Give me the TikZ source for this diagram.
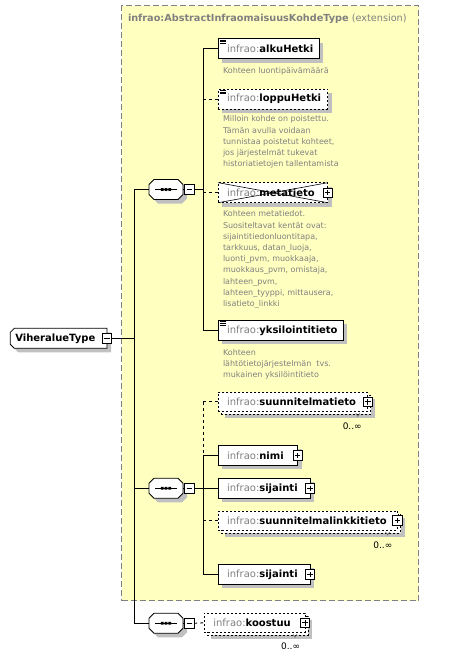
\documentclass[tikz,border=0pt]{standalone}
\usepackage{fontspec}
\setmainfont{DejaVu Sans}
\usetikzlibrary{shadows}
\definecolor{tgray}{HTML}{808080}
\definecolor{ylw}{HTML}{FFFFC0}
\definecolor{shd}{HTML}{C0C0C0}
\newcommand\compobox[3]{%
  \node[comp] (#1) at (#2,#3) {};
  \begin{scope}[shift={(#2,#3)}]
    \fill[shd,shift={(4,4)}] (-12,-10) -- (12,-10) -- (17,-5) -- (17,5) -- (12,10) -- (-12,10) -- (-17,5) -- (-17,-5) -- cycle;
    \draw[fill=white,line width=0.8pt] (-12,-10) -- (12,-10) -- (17,-5) -- (17,5) -- (12,10) -- (-12,10) -- (-17,5) -- (-17,-5) -- cycle;
    \draw[line width=0.8pt] (-11,0) -- (11,0);
    \fill (-5.2,-1.4) rectangle (-2.4,1.4) (-1.4,-1.4) rectangle (1.4,1.4) (2.4,-1.4) rectangle (5.2,1.4);
  \end{scope}}
\newcommand\docicon[1]{%
  \draw[line width=0.6pt] ([xshift=1.8pt,yshift=-1.3pt]#1.north west) -- ++(5.5,0)
    ([xshift=1.8pt,yshift=-2.9pt]#1.north west) -- ++(5.5,0)
    ([xshift=1.8pt,yshift=-4.5pt]#1.north west) -- ++(5.5,0);}
\newcommand\multitick[1]{%
  \draw[line width=0.6pt, black!60] ([xshift=-15pt,yshift=1pt]#1.south east) -- ([xshift=-13pt,yshift=-2pt]#1.south east) -- ([xshift=-11pt,yshift=1pt]#1.south east);}
\begin{document}
\begin{tikzpicture}[x=1pt,y=-1pt,
  every node/.style={inner sep=0pt, outer sep=0pt},
  shad/.style={general shadow={fill=shd, shadow xshift=4pt, shadow yshift=-4pt}},
  elem/.style={draw, fill=white, line width=0.8pt, minimum height=20pt, anchor=north west, shad},
  elemb/.style={draw, fill=white, line width=0.8pt, minimum height=19pt, anchor=north west},
  dsh/.style={dash pattern=on 2pt off 2pt},
  lab/.style={anchor=west, font=\fontsize{10}{12}\selectfont},
  desc/.style={anchor=north west, align=left, text=tgray, font=\fontsize{8}{11.2}\selectfont},
  card/.style={anchor=east, font=\fontsize{9}{10}\selectfont},
  pmb/.style={draw, fill=white, line width=0.6pt, minimum size=9.5pt},
  plusb/.style={pmb, path picture={\draw[line width=0.7pt] ([xshift=2pt]path picture bounding box.west) -- ([xshift=-2pt]path picture bounding box.east) ([yshift=-2pt]path picture bounding box.north) -- ([yshift=2pt]path picture bounding box.south);}},
  minusb/.style={pmb, path picture={\draw[line width=0.7pt] ([xshift=2pt]path picture bounding box.west) -- ([xshift=-2pt]path picture bounding box.east);}},
  conn/.style={line width=0.9pt},
  dconn/.style={conn, dash pattern=on 3pt off 3pt},
  comp/.style={minimum width=34pt, minimum height=20pt}
]
\useasboundingbox (0,0) rectangle (458,659);
% extension box
\node[draw=tgray, fill=ylw, line width=1pt, dash pattern=on 6pt off 3pt, anchor=north west, minimum width=297pt, minimum height=595pt] (ext) at (121.5,5.5) {};
\node[anchor=west, text=tgray, font=\fontsize{9.7}{11}\selectfont] (extT) at (128,19) {\textbf{infrao:AbstractInfraomaisuusKohdeType} (extension)};

% root
\node[minimum width=96.7pt, minimum height=20pt] (vir) at (58.65,338.3) {};
\begin{scope}[shift={(58.65,338.3)}]
  \fill[shd,shift={(4,4)}] (-44.35,-10) -- (48.35,-10) -- (48.35,10) -- (-44.35,10) -- (-48.35,6) -- (-48.35,-6) -- cycle;
  \draw[fill=white,line width=0.8pt] (-44.35,-10) -- (48.35,-10) -- (48.35,10) -- (-44.35,10) -- (-48.35,6) -- (-48.35,-6) -- cycle;
\end{scope}
\node[lab] (virT) at (15.3,338.3) {\textbf{ViheralueType}};
\node[minusb] (vm) at (vir.east) {};

% compositors
\compobox{c1}{166}{189.5}
\compobox{c2}{166}{488.3}
\compobox{c3}{166}{623.3}
\node[minusb] (m1) at (189.3,189.5) {};
\node[minusb] (m2) at (189.3,488.3) {};
\node[minusb] (m3) at (189.3,623.3) {};

% group 1 elements
\node[elem, minimum width=101pt] (alku) at (218.3,38.5) {};
\docicon{alku}
\node[lab] (alkuT) at (227,48.5) {\textcolor{tgray}{infrao:}\textbf{alkuHetki}};
\node[desc] (alkuD) at (223,67) {Kohteen luontipäivämäärä};

\node[elem, dsh, minimum width=109.2pt] (loppu) at (218.3,89) {};
\docicon{loppu}
\node[lab] (loppuT) at (227,99) {\textcolor{tgray}{infrao:}\textbf{loppuHetki}};
\node[desc] (loppuD) at (223,115.8) {Milloin kohde on poistettu.\\Tämän avulla voidaan\\tunnistaa poistetut kohteet,\\jos järjestelmät tukevat\\historiatietojen tallentamista};

\node[elem, dsh, minimum width=109.4pt] (meta) at (218.3,182.7) {};
\draw[line width=0.6pt] (meta.north west) -- (meta.south east) (meta.south west) -- (meta.north east);
\node[lab] (metaT) at (227,192.7) {\textcolor{tgray}{infrao:}\textbf{metatieto}};
\node[plusb] (metaP) at (meta.east) {};
\node[desc] (metaD) at (223,210.8) {Kohteen metatiedot.\\Suositeltavat kentät ovat:\\sijaintitiedonluontitapa,\\tarkkuus, datan\_luoja,\\luonti\_pvm, muokkaaja,\\muokkaus\_pvm, omistaja,\\lahteen\_pvm,\\lahteen\_tyyppi, mittausera,\\lisatieto\_linkki};

\node[elem, minimum width=125pt] (yksi) at (218.3,320.3) {};
\docicon{yksi}
\node[lab] (yksiT) at (227,330.3) {\textcolor{tgray}{infrao:}\textbf{yksilointitieto}};
\node[desc] (yksiD) at (223,349.2) {Kohteen\\lähtötietojärjestelmän\ \ tvs.\\mukainen yksilöintitieto};

% group 2 elements
\node[elemb, dsh, shad, minimum width=149.5pt] (suunB) at (221.3,395.3) {};
\node[elemb, dsh, minimum width=149.5pt] (suun) at (218.3,392.3) {};
\multitick{suunB}
\node[lab] (suunT) at (227,402.2) {\textcolor{tgray}{infrao:}\textbf{suunnitelmatieto}};
\node[plusb] (suunP) at (suun.east) {};
\node[card] (suunC) at (361.7,426) {0..∞};

\node[elem, minimum width=79.4pt] (nimi) at (218.3,445.3) {};
\node[lab] (nimiT) at (227,455.3) {\textcolor{tgray}{infrao:}\textbf{nimi}};
\node[plusb] (nimiP) at (nimi.east) {};

\node[elem, minimum width=91.7pt] (sij1) at (218.3,478.3) {};
\node[lab] (sij1T) at (227,488.3) {\textcolor{tgray}{infrao:}\textbf{sijainti}};
\node[plusb] (sij1P) at (sij1.east) {};

\node[elemb, dsh, shad, minimum width=179.2pt] (linkB) at (221.3,514) {};
\node[elemb, dsh, minimum width=179.2pt] (link) at (218.3,511) {};
\multitick{linkB}
\node[lab] (linkT) at (227,520.8) {\textcolor{tgray}{infrao:}\textbf{suunnitelmalinkkitieto}};
\node[plusb] (linkP) at (link.east) {};
\node[card] (linkC) at (392.3,545) {0..∞};

\node[elem, minimum width=91.7pt] (sij2) at (218.3,564.3) {};
\node[lab] (sij2T) at (227,574.3) {\textcolor{tgray}{infrao:}\textbf{sijainti}};
\node[plusb] (sij2P) at (sij2.east) {};

% group 3
\node[elemb, dsh, shad, minimum width=101pt] (koosB) at (207,616.3) {};
\node[elemb, dsh, minimum width=101pt] (koos) at (204,613.3) {};
\multitick{koosB}
\node[lab] (koosT) at (213.3,623) {\textcolor{tgray}{infrao:}\textbf{koostuu}};
\node[plusb] (koosP) at (koos.east) {};
\node[card] (koosC) at (300,646.7) {0..∞};

% connectors
\coordinate (j0) at (134,338.3);
\coordinate (s1) at (203.3,338.3);
\draw[conn] (vm.east) -- (j0);
\draw[conn] (c1.west -| j0) -- (c3.west -| j0);
\draw[conn] (c1.west -| j0) -- (c1.west);
\draw[conn] (c2.west -| j0) -- (c2.west);
\draw[conn] (c3.west -| j0) -- (c3.west);
\draw[conn] (c1.east) -- (m1.west) (c2.east) -- (m2.west) (c3.east) -- (m3.west);
% group 1
\draw[conn] (m1.east) -- (m1.east -| s1);
\draw[conn] (alku.west -| s1) -- (yksi.west -| s1);
\draw[conn] (alku.west -| s1) -- (alku.west);
\draw[dconn] (loppu.west -| s1) -- (loppu.west);
\draw[dconn] (meta.west -| s1) -- (meta.west);
\draw[conn] (yksi.west -| s1) -- (yksi.west);
% group 2
\draw[dconn] (suun.west -| s1) -- (suun.west);
\draw[dconn] (suun.west -| s1) -- (nimi.west -| s1);
\draw[conn] (nimi.west -| s1) -- (sij2.west -| s1);
\draw[conn] (nimi.west -| s1) -- (nimi.west);
\draw[conn] (m2.east) -- (sij1.west);
\draw[dconn] (link.west -| s1) -- (link.west);
\draw[conn] (sij2.west -| s1) -- (sij2.west);
% group 3
\draw[dconn] (m3.east) -- (koos.west);
\end{tikzpicture}
\end{document}
